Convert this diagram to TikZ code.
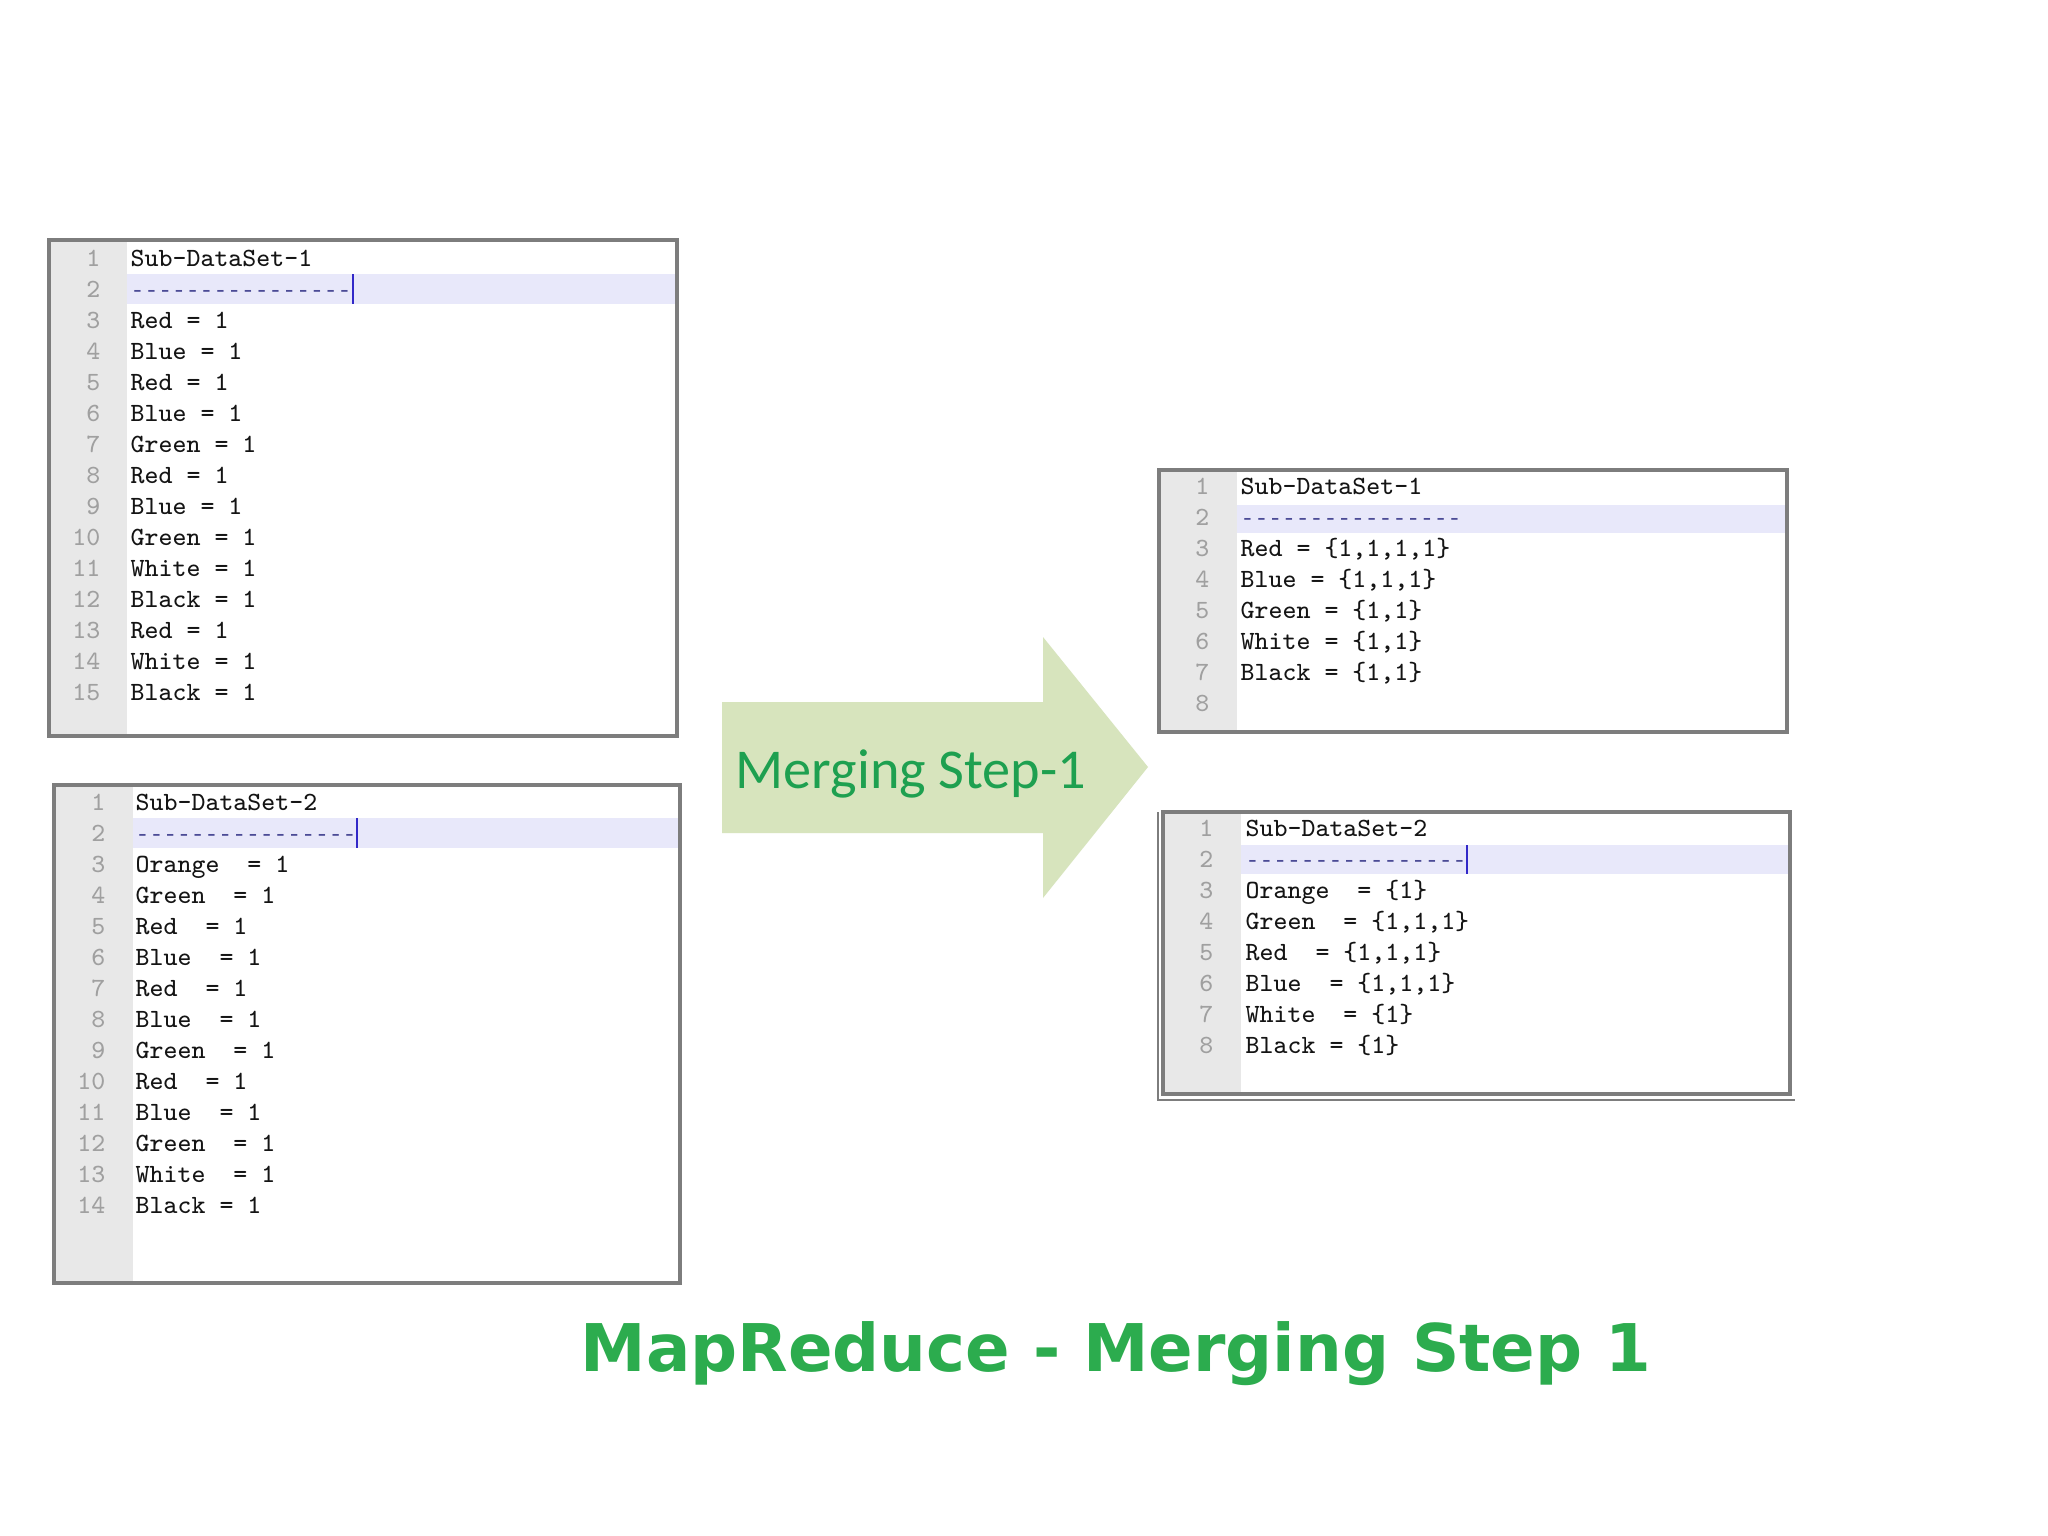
\documentclass[tikz,border=0pt]{standalone}
\usepackage{fontspec}
\newfontfamily\arrowfont{Carlito}
\newfontfamily\titlefont{DejaVu Sans}
\newfontfamily\dashfont{Liberation Mono}
\definecolor{boxgrey}{RGB}{125,125,125}
\definecolor{guttergrey}{RGB}{232,232,232}
\definecolor{hlblue}{RGB}{232,232,250}
\definecolor{codeblack}{RGB}{20,20,20}
\definecolor{numgrey}{RGB}{160,160,160}
\definecolor{dashblue}{RGB}{75,75,150}
\definecolor{cursorblue}{RGB}{50,40,200}
\definecolor{arrowfill}{RGB}{215,228,189}
\definecolor{arrowtext}{RGB}{30,160,80}
\definecolor{titlegreen}{RGB}{44,172,78}
\tikzset{
  frame/.style={draw=boxgrey, line width=1pt},
  thinframe/.style={draw=boxgrey, line width=0.5pt},
  gutter/.style={fill=guttergrey},
  hlband/.style={fill=hlblue},
  codeline/.style={anchor=base west, inner sep=0pt, text=codeblack,
    font={\ttfamily\fontsize{7.48pt}{8.5pt}\selectfont}},
  dashline/.style={anchor=base west, inner sep=0pt, text=dashblue,
    font={\dashfont\fontsize{6.54pt}{7.5pt}\selectfont}},
  lnum/.style={anchor=base east, inner sep=0pt, text=numgrey,
    font={\ttfamily\fontsize{7.48pt}{8.5pt}\selectfont}},
  cursor/.style={draw=cursorblue, line width=0.5pt},
  blockarrow/.style={fill=arrowfill},
  arrowlabel/.style={anchor=base west, inner sep=0pt, text=arrowtext,
    font={\arrowfont\fontsize{16pt}{18pt}\selectfont}},
  titlelabel/.style={anchor=base, inner sep=0pt, text=titlegreen,
    font={\titlefont\bfseries\fontsize{18.7pt}{22pt}\selectfont}}
}
\begin{document}
\begin{tikzpicture}[x=0.01cm,y=-0.01cm]
\useasboundingbox[fill=white] (0,0) rectangle (2048,1536);

% ---------- Box 1 (Sub-DataSet-1, input) ----------
\fill[white] (49,240) rectangle (677,736);
\fill[gutter] (49,240) rectangle (127,736);
\fill[hlband] (127,274) rectangle (677,304);
\foreach \i in {1,...,15}
  \node[lnum] (b1n\i) at (101,{266+31*(\i-1)}) {\i};
\node[codeline] (b1t1) at (130,266) {Sub-DataSet-1};
\node[dashline] (b1t2) at (130,297) {----------------};
\foreach \t [count=\i from 3] in {Red = 1,Blue = 1,Red = 1,Blue = 1,Green = 1,Red = 1,Blue = 1,Green = 1,White = 1,Black = 1,Red = 1,White = 1,Black = 1}
  \node[codeline] (b1t\i) at (130,{266+31*(\i-1)}) {\t};
\draw[cursor] (353,274) -- (353,304);
\draw[frame] (49,240) rectangle (677,736);

% ---------- Box 2 (Sub-DataSet-2, input) ----------
\fill[white] (54,785) rectangle (680,1283);
\fill[gutter] (54,785) rectangle (133,1283);
\fill[hlband] (133,818) rectangle (680,848);
\foreach \i in {1,...,14}
  \node[lnum] (b2n\i) at (106,{810+31*(\i-1)}) {\i};
\node[codeline] (b2t1) at (135,810) {Sub-DataSet-2};
\node[dashline] (b2t2) at (135,841) {----------------};
\foreach \t [count=\i from 3] in {Orange\ \ = 1,Green\ \ = 1,Red\ \ = 1,Blue\ \ = 1,Red\ \ = 1,Blue\ \ = 1,Green\ \ = 1,Red\ \ = 1,Blue\ \ = 1,Green\ \ = 1,White\ \ = 1,Black = 1}
  \node[codeline] (b2t\i) at (135,{810+31*(\i-1)}) {\t};
\draw[cursor] (357,818) -- (357,848);
\draw[frame] (54,785) rectangle (680,1283);

% ---------- Merging arrow ----------
\fill[blockarrow] (722,702) -- (1043,702) -- (1043,637) -- (1148,767)
  -- (1043,898) -- (1043,833) -- (722,833) -- cycle;
\node[arrowlabel] (merge) at (735,788) {Merging Step-1};

% ---------- Box 3 (Sub-DataSet-1, merged) ----------
\fill[white] (1159,470) rectangle (1787,732);
\fill[gutter] (1159,470) rectangle (1237,732);
\fill[hlband] (1237,505) rectangle (1787,533);
\foreach \i in {1,...,8}
  \node[lnum] (b3n\i) at (1210,{494+31*(\i-1)}) {\i};
\node[codeline] (b3t1) at (1240,494) {Sub-DataSet-1};
\node[dashline] (b3t2) at (1240,525) {----------------};
\foreach \t [count=\i from 3] in {{Red = \{1,1,1,1\}},{Blue = \{1,1,1\}},{Green = \{1,1\}},{White = \{1,1\}},{Black = \{1,1\}}}
  \node[codeline] (b3t\i) at (1240,{494+31*(\i-1)}) {\t};
\draw[frame] (1159,470) rectangle (1787,732);

% ---------- Box 4 (Sub-DataSet-2, merged) ----------
\fill[white] (1163,812) rectangle (1790,1094);
\fill[gutter] (1163,812) rectangle (1241,1094);
\fill[hlband] (1241,845) rectangle (1790,874);
\foreach \i in {1,...,8}
  \node[lnum] (b4n\i) at (1214,{836+31*(\i-1)}) {\i};
\node[codeline] (b4t1) at (1245,836) {Sub-DataSet-2};
\node[dashline] (b4t2) at (1245,867) {----------------};
\foreach \t [count=\i from 3] in {{Orange\ \ = \{1\}},{Green\ \ = \{1,1,1\}},{Red\ \ = \{1,1,1\}},{Blue\ \ = \{1,1,1\}},{White\ \ = \{1\}},{Black = \{1\}}}
  \node[codeline] (b4t\i) at (1245,{836+31*(\i-1)}) {\t};
\draw[cursor] (1467,845) -- (1467,874);
\draw[frame] (1163,812) rectangle (1790,1094);
\draw[thinframe] (1158,812) -- (1158,1100) -- (1795,1100);

% ---------- Title ----------
\node[titlelabel] (title) at (1116,1371) {MapReduce - Merging Step 1};
\end{tikzpicture}
\end{document}
